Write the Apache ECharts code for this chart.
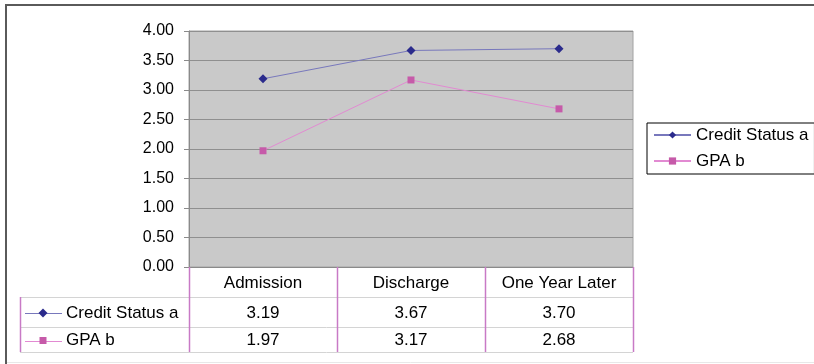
<!DOCTYPE html>
<html>
<head>
<meta charset="utf-8">
<script src="https://cdn.jsdelivr.net/npm/echarts@6/dist/echarts.min.js"></script>
<style>
  html, body { margin: 0; padding: 0; background: #fff; }
  #chart { width: 814px; height: 364px; }
</style>
</head>
<body>
<div id="chart"></div>
<script>
// Survey periods and the two measures tracked across them
const categories = ['Admission', 'Discharge', 'One Year Later'];
const seriesNames = ['Credit Status a', 'GPA b'];
const creditStatus = [3.19, 3.67, 3.70];
const gpa = [1.97, 3.17, 2.68];
const yTicks = { min: 0, max: 4, step: 0.5 };

const FONT = '"Liberation Sans", Arial, sans-serif';
const NAVY = '#2b2b8c';
const NAVY_LINE = '#7878bc';
const PINK = '#c65aa9';
const PINK_LINE = '#e28ad2';
const TABLE_V = '#c87ac6';
const TABLE_H = '#d4d4d4';

const chart = echarts.init(document.getElementById('chart'), null, { renderer: 'canvas' });

const seriesData = [creditStatus, gpa];
const symbols = ['diamond', 'rect'];
const symbolSizes = [9, 7];
const markColors = [NAVY, PINK];
const lineColors = [NAVY_LINE, PINK_LINE];

const option = {
  animation: false,
  backgroundColor: '#fff',
  textStyle: { fontFamily: FONT },
  grid: {
    left: 189, top: 31, width: 444, height: 236,
    show: true, backgroundColor: '#c9c9c9', borderColor: '#a2a2a2', borderWidth: 1
  },
  legend: {
    orient: 'vertical',
    left: 647, top: 123,
    padding: [3, 6, 4, 6],
    itemGap: 8,
    itemWidth: 37, itemHeight: 9,
    borderColor: '#000', borderWidth: 1,
    backgroundColor: '#fff',
    textStyle: { fontSize: 17, lineHeight: 18, color: '#000', fontFamily: FONT },
    data: seriesNames
  },
  xAxis: {
    type: 'category',
    data: categories,
    boundaryGap: true,
    axisLine: { lineStyle: { color: '#8a8a8a', width: 1 } },
    axisTick: { show: false },
    axisLabel: { show: false },
    splitLine: { show: false }
  },
  yAxis: {
    type: 'value',
    min: yTicks.min, max: yTicks.max, interval: yTicks.step,
    axisLine: { show: true, lineStyle: { color: '#8a8a8a' } },
    axisTick: { show: true, length: 5, lineStyle: { color: '#8a8a8a' } },
    axisLabel: {
      fontSize: 16, color: '#000', fontFamily: FONT, margin: 15,
      formatter: v => v.toFixed(2)
    },
    splitLine: { show: true, lineStyle: { color: '#8f8f8f', width: 1 } }
  },
  series: seriesNames.map((name, i) => ({
    name,
    type: 'line',
    data: seriesData[i],
    symbol: symbols[i],
    symbolSize: symbolSizes[i],
    showAllSymbol: true,
    itemStyle: { color: markColors[i] },
    lineStyle: { color: lineColors[i], width: 1 }
  }))
};

chart.setOption(option);

// Data table under the plot, positioned from the category axis
const px = (i, v) => chart.convertToPixel({ gridIndex: 0 }, [i, v]);
const centers = categories.map((_, i) => px(i, 0)[0]);
const band = centers.length > 1 ? centers[1] - centers[0] : 148;
const plotLeft = centers[0] - band / 2;
const plotRight = centers[centers.length - 1] + band / 2;
const plotBottom = px(0, yTicks.min)[1];

const rowTop = plotBottom;
const rowEdges = [rowTop, rowTop + 30, rowTop + 60, rowTop + 85];
const tableLeft = 20;

const g = [];
const hline = (x1, x2, y, color, w) => g.push({
  type: 'line', shape: { x1, y1: y, x2, y2: y },
  style: { stroke: color, lineWidth: w || 1 }, z: 10
});
const vline = (x, y1, y2, color, w) => g.push({
  type: 'line', shape: { x1: x, y1, x2: x, y2 },
  style: { stroke: color, lineWidth: w || 1 }, z: 10
});
const text = (x, y, s, align) => g.push({
  type: 'text', x, y, z: 11,
  style: { text: s, fill: '#000', font: '17px ' + FONT, align: align || 'center', verticalAlign: 'middle' }
});

// horizontal rules
hline(plotLeft, plotRight, rowEdges[1] + 0.5, TABLE_H);
hline(tableLeft, plotLeft, rowEdges[1] + 0.5, TABLE_H);
hline(tableLeft, plotRight, rowEdges[2] + 0.5, TABLE_H);
hline(tableLeft, plotRight, rowEdges[3] + 0.5, TABLE_H);

// vertical rules
const colEdges = [plotLeft].concat(centers.map(c => c + band / 2));
colEdges.forEach(x => vline(Math.round(x) + 0.5, rowEdges[0], rowEdges[3], TABLE_V, 1.5));
vline(tableLeft + 0.5, rowEdges[1], rowEdges[3], TABLE_V, 1.5);

// header row
categories.forEach((c, i) => text(centers[i], (rowEdges[0] + rowEdges[1]) / 2 + 1, c));

// value rows with series keys
seriesNames.forEach((name, r) => {
  const yMid = (rowEdges[r + 1] + rowEdges[r + 2]) / 2 + 1;
  seriesData[r].forEach((v, i) => text(centers[i], yMid, v.toFixed(2)));
  text(66, yMid, name, 'left');
  g.push({ type: 'line', shape: { x1: 25, y1: Math.round(yMid) + 0.5, x2: 62, y2: Math.round(yMid) + 0.5 },
           style: { stroke: lineColors[r], lineWidth: 1 }, z: 10 });
  const s = symbolSizes[r];
  if (symbols[r] === 'diamond') {
    g.push({ type: 'polygon', z: 11,
      shape: { points: [[43, yMid - s / 2], [43 + s / 2, yMid], [43, yMid + s / 2], [43 - s / 2, yMid]] },
      style: { fill: markColors[r] } });
  } else {
    g.push({ type: 'rect', z: 11, shape: { x: 43 - s / 2, y: yMid - s / 2, width: s, height: s },
      style: { fill: markColors[r] } });
  }
});

// outer frame of the chart object
hline(5, 814, 5, '#5a5a5a', 2);
vline(6, 4, 364, '#5a5a5a', 2);
hline(7, 814, 362.5, '#e8e8e8', 1);

chart.setOption({ graphic: g });
</script>
</body>
</html>
